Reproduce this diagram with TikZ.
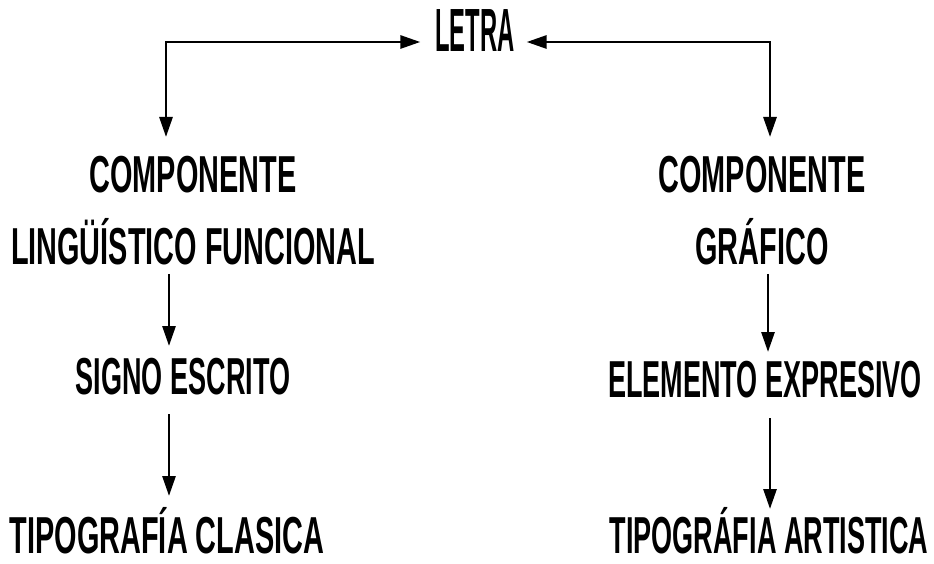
\documentclass[tikz,border=0pt]{standalone}
\usepackage{fontspec}
\setmainfont{Liberation Sans}[FakeStretch=0.555]
\newfontfamily\stretta{Liberation Sans}[FakeStretch=0.52]
\newfontfamily\letrafont{Liberation Sans}[FakeStretch=0.39]
\usetikzlibrary{arrows.meta}

\begin{document}
\begin{tikzpicture}[x=1pt,y=-1pt,
    testo/.style={font=\bfseries\fontsize{52}{72}\selectfont, inner sep=0pt, outer sep=0pt, align=center},
    riga/.style={testo, anchor=base, text height=36pt, text depth=0pt},
    stretto/.style={font=\stretta\bfseries\fontsize{52}{72}\selectfont},
    freccia/.style={line width=2.8pt, -{Triangle[length=20pt,width=13pt]}},
    doppia/.style={line width=2.8pt, {Triangle[length=20pt,width=13pt]}-{Triangle[length=20pt,width=13pt]}}]
  \useasboundingbox (0,0) rectangle (934,564);

  % Nodo LETRA
  \node[riga, font=\letrafont\bfseries\fontsize{61}{61}\selectfont, text height=44pt] (letra) at (475,52) {LETRA};

  % Ramo sinistro
  \node[testo, anchor=north] (comp1) at (193,156) {COMPONENTE\\LINGÜÍSTICO FUNCIONAL};
  \node[riga, stretto] (signo) at (183,394) {SIGNO ESCRITO};
  \node[riga] (tipo1) at (167,553) {TIPOGRAFÍA CLASICA};

  % Ramo destro
  \node[testo, anchor=north] (comp2) at (762,156) {COMPONENTE\\GRÁFICO};
  \node[riga, stretto] (elem) at (765,397) {ELEMENTO EXPRESIVO};
  \node[riga, stretto] (tipo2) at (769,553) {TIPOGRÁFIA ARTISTICA};

  % Assi delle frecce
  \coordinate (sx) at (166,0);
  \coordinate (sx2) at (169,0);
  \coordinate (dx) at (770,0);
  \coordinate (dx2) at (768,0);

  % Frecce da LETRA
  \draw[doppia, shorten <=19pt, shorten >=15pt] (comp1.north -| sx) |- ([yshift=-12pt]letra.west);
  \draw[doppia, shorten <=19pt, shorten >=12pt] (comp2.north -| dx) |- ([yshift=-12pt]letra.east);

  % Frecce verticali
  \draw[freccia, shorten <=9pt, shorten >=12pt] (comp1.south -| sx2) -- (signo.north -| sx2);
  \draw[freccia, shorten <=20pt, shorten >=21pt] (signo.south -| sx2) -- (tipo1.north -| sx2);
  \draw[freccia, shorten <=9pt, shorten >=9pt] (comp2.south -| dx2) -- (elem.north -| dx2);
  \draw[freccia, shorten <=21pt, shorten >=8pt] (elem.south -| dx) -- (tipo2.north -| dx);
\end{tikzpicture}
\end{document}
